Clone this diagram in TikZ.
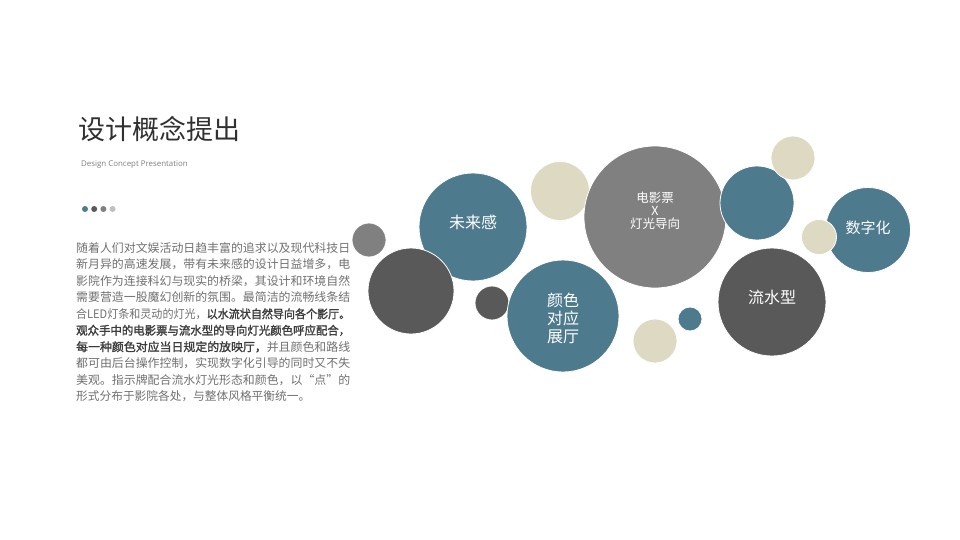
\documentclass[tikz,border=0pt]{standalone}
\usepackage{fontspec}
\usepackage{xcolor}
\usepackage{graphicx}
\usepackage{tikz}
\setmainfont{Open Sans}
\newfontfamily\cjk[AutoFakeBold=1.6]{Noto Sans CJK SC}

\definecolor{steel}{HTML}{4E7A8E}
\definecolor{slate}{HTML}{595959}
\definecolor{ash}{HTML}{808080}
\definecolor{sand}{HTML}{DDD9C3}
\definecolor{pale}{HTML}{C0C0C0}
\definecolor{titleink}{HTML}{303030}
\definecolor{bodyink}{HTML}{707070}
\definecolor{boldink}{HTML}{3C3C3C}

\newcommand{\boldpart}[1]{{\bfseries\color{boldink}#1}}
\newcommand{\fullline}[1]{\resizebox{274pt}{\height}{#1}}

\tikzset{
  bubble/.style={circle, draw=white, line width=0.8pt, inner sep=0pt},
  bubbletext/.style={text=white, align=center, inner sep=0pt,
    font=\cjk\fontsize{16}{18}\selectfont},
  bodyline/.style={anchor=base west, inner sep=0pt, text=bodyink,
    font=\cjk\fontsize{11.7}{16}\selectfont},
}

\begin{document}
\begin{tikzpicture}[x=1pt, y=-1pt]
  \def\linestep{16.45}
  \useasboundingbox[fill=white] (0,0) rectangle (960,540);

  % heading
  \node[anchor=base west, inner sep=0pt, text=titleink,
    font=\cjk\fontsize{27}{27}\selectfont] (title) at (78,140) {设计概念提出};
  \node[anchor=base west, inner sep=0pt, text=ash,
    font=\fontsize{7.9}{9}\selectfont] (subtitle) at (81,167)
    {Design Concept Presentation};
  \foreach \c [count=\i from 0] in {steel, slate, ash, pale}
    \node[circle, fill=\c, minimum size=6pt, inner sep=0pt]
      (dot\i) at ({85+9.2*\i},209) {};

  % body text
  \foreach \txt [count=\i from 0] in {
      {\fullline{随着人们对文娱活动日趋丰富的追求以及现代科技日}},
      {\fullline{新月异的高速发展，带有未来感的设计日益增多，电}},
      {\fullline{影院作为连接科幻与现实的桥梁，其设计和环境自然}},
      {\fullline{需要营造一股魔幻创新的氛围。最简洁的流畅线条结}},
      {\fullline{合LED灯条和灵动的灯光，\boldpart{以水流状自然导向各个影厅。}}},
      {\fullline{\boldpart{观众手中的电影票与流水型的导向灯光颜色呼应配合，}}},
      {\fullline{\boldpart{每一种颜色对应当日规定的放映厅，}并且颜色和路线}},
      {\fullline{都可由后台操作控制，实现数字化引导的同时又不失}},
      {\fullline{美观。指示牌配合流水灯光形态和颜色，以“点”的}},
      {形式分布于影院各处，与整体风格平衡统一。}}
    \node[bodyline] (line\i) at (76,{252.5+\linestep*\i}) {\txt};

  % bubbles
  \foreach \name/\x/\y/\r/\c in {
      grayleft/369/240/17/ash,
      weilai/473/227/54/steel,
      darkleft/411/291/43/slate,
      sandtop/560/191/29.5/sand,
      darksmall/492/303/17/slate,
      yanse/563/316/56/steel,
      ticket/655/217/71/ash,
      bluemid/757/203/37/steel,
      sandright/793/158/22/sand,
      shuzi/868/230/42.5/steel,
      sandsmall/819/237/17.5/sand,
      liushui/772/302/54/slate,
      bluesmall/690/319/12/steel,
      sandlow/655/341/22/sand}
    \node[bubble, fill=\c, minimum size={2*\r*1pt}] (\name) at (\x,\y) {};

  % bubble labels
  \node[bubbletext] (weilai-t) at ([yshift=5pt]weilai.center) {未来感};
  \node[bubbletext] (yanse-t) at ([yshift=-2pt]yanse.center) {颜色\\对应\\展厅};
  \node[bubbletext, font=\cjk\fontsize{12.5}{13}\selectfont]
    (ticket-t) at ([yshift=6pt]ticket.center) {电影票\\X\\灯光导向};
  \node[bubbletext] (liushui-t) at ([yshift=5pt]liushui.center) {流水型};
  \node[bubbletext, font=\cjk\fontsize{15}{17}\selectfont]
    (shuzi-t) at ([yshift=2pt]shuzi.center) {数字化};
\end{tikzpicture}
\end{document}
